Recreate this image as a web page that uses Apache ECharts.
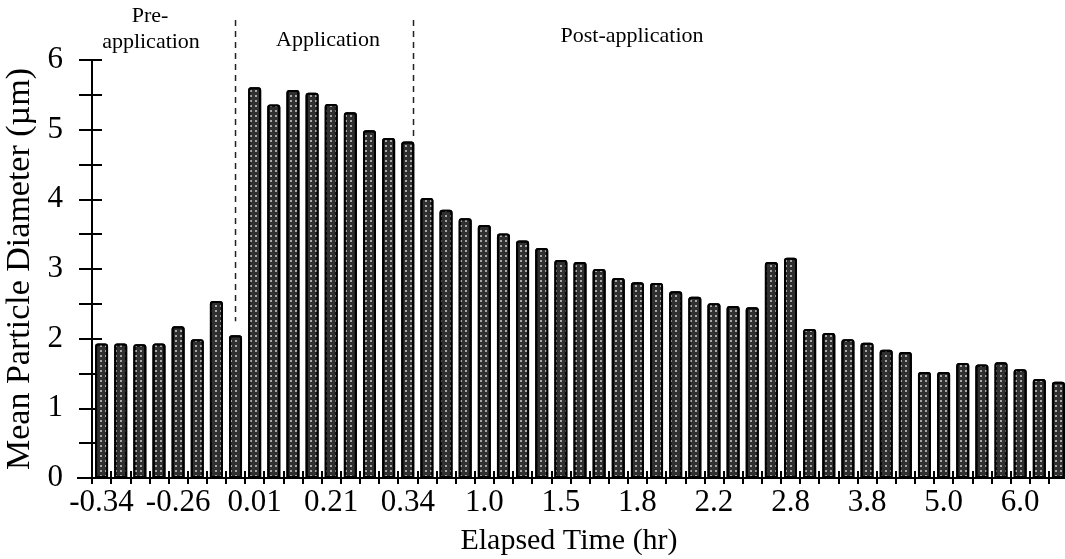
<!DOCTYPE html>
<html>
<head>
<meta charset="utf-8">
<script src="https://cdn.jsdelivr.net/npm/echarts@6/dist/echarts.min.js"></script>
<style>
* { margin: 0; padding: 0; }
#main { width: 1065px; height: 559px; background: #fff; }
</style>
</head>
<body>
<div id="main"></div>
<script>
// mean particle diameter (um) per sample
var preValues = [1.93, 1.93, 1.92, 1.93, 2.18, 1.99, 2.54, 2.05];
var appValues = [5.61, 5.36, 5.57, 5.53, 5.37, 5.25, 4.99, 4.88, 4.83];
var postValues = [4.02, 3.85, 3.73, 3.63, 3.51, 3.41, 3.30, 3.13, 3.10, 3.00,
  2.87, 2.81, 2.80, 2.68, 2.60, 2.51, 2.47, 2.45, 3.10, 3.16,
  2.14, 2.08, 1.99, 1.94, 1.84, 1.81, 1.52, 1.52, 1.65, 1.63,
  1.66, 1.56, 1.42, 1.38];
// elapsed time labels, one on every 4th bar
var tickLabels = ['-0.34', '-0.26', '0.01', '0.21', '0.34', '1.0', '1.5', '1.8', '2.2', '2.8', '3.8', '5.0', '6.0'];

var values = preValues.concat(appValues, postValues);
var categories = values.map(function (v, i) { return String(i); });

var serif = '"Liberation Serif", "DejaVu Serif", serif';
var chart = echarts.init(document.getElementById('main'));

function xAxisBase(inside) {
  return {
    type: 'category',
    data: categories,
    position: 'bottom',
    offset: 0,
    axisLine: { show: !inside, lineStyle: { color: '#000', width: 2 } },
    axisTick: { show: true, interval: 0, inside: inside, length: inside ? 7 : 6, lineStyle: { color: '#000', width: 2 } },
    axisLabel: {
      show: !inside,
      interval: 3,
      margin: 9,
      color: '#000',
      fontFamily: serif,
      fontSize: 31,
      formatter: function (v, i) { return tickLabels[i / 4] || ''; }
    },
    splitLine: { show: false }
  };
}

function yAxisBase(inside) {
  return {
    type: 'value',
    min: 0,
    max: 6,
    interval: 1,
    position: 'left',
    offset: 0,
    axisLine: { show: !inside, lineStyle: { color: '#000', width: 2 } },
    axisTick: { show: true, inside: inside, length: inside ? 10 : 13, lineStyle: { color: '#000', width: 2 } },
    minorTick: { show: true, splitNumber: 2, length: inside ? 10 : 13, lineStyle: { color: '#000', width: 2 } },
    axisLabel: { show: !inside, margin: 29, color: '#000', fontFamily: serif, fontSize: 31 },
    splitLine: { show: false }
  };
}

var xMain = xAxisBase(false);
xMain.name = 'Elapsed Time (hr)';
xMain.nameLocation = 'middle';
xMain.nameGap = 48;
xMain.nameTextStyle = { color: '#000', fontFamily: serif, fontSize: 30, padding: [0, 22, 0, 0] };

var yMain = yAxisBase(false);
yMain.name = 'Mean Particle Diameter (\u00b5m)';
yMain.nameLocation = 'middle';
yMain.nameGap = 54;
yMain.nameTextStyle = { color: '#000', fontFamily: serif, fontSize: 34 };

chart.setOption({
  animation: false,
  grid: { left: 92, right: -3, top: 60, bottom: 81, containLabel: false, outerBoundsMode: 'none' },
  xAxis: [xMain, xAxisBase(true)],
  yAxis: [yMain, yAxisBase(true)],
  series: [{
    type: 'bar',
    data: values,
    xAxisIndex: 0,
    yAxisIndex: 0,
    barWidth: 13,
    itemStyle: {
      color: '#303030',
      borderColor: '#000',
      borderWidth: 2,
      borderRadius: [2, 2, 0, 0],
      decal: {
        symbol: 'rect',
        symbolSize: 1,
        color: '#a8a8a8',
        dashArrayX: [1.5, 2.5],
        dashArrayY: [1.5, 2.5]
      }
    }
  }]
});

// phase boundaries: dashed lines above the bars
var b1 = chart.convertToPixel({ xAxisIndex: 0, yAxisIndex: 0 }, [7, values[7] + 0.2]);
var p16 = chart.convertToPixel({ xAxisIndex: 0, yAxisIndex: 0 }, [16, values[16] + 0.05]);
var p17 = chart.convertToPixel({ xAxisIndex: 0, yAxisIndex: 0 }, [17, 0]);
var b2x = p16[0] + 0.3 * (p17[0] - p16[0]);
var dash = { stroke: '#222', lineWidth: 1.5, lineDash: [6, 5] };
var txt = function (x, y, s) {
  return { type: 'text', x: x, y: y, style: { text: s, fill: '#000', font: '22px ' + serif, align: 'center', verticalAlign: 'middle' } };
};

chart.setOption({
  graphic: [
    { type: 'line', shape: { x1: b1[0], y1: 20, x2: b1[0], y2: b1[1] }, style: dash },
    { type: 'line', shape: { x1: b2x, y1: 20, x2: b2x, y2: p16[1] }, style: dash },
    // short stub of the x axis line left of the y axis
    { type: 'line', shape: { x1: 77, y1: p17[1], x2: 92, y2: p17[1] }, style: { stroke: '#000', lineWidth: 2 } },
    txt(150, 16, 'Pre-'),
    txt(151, 42, 'application'),
    txt(328, 40, 'Application'),
    txt(632, 36, 'Post-application')
  ]
});
</script>
</body>
</html>
